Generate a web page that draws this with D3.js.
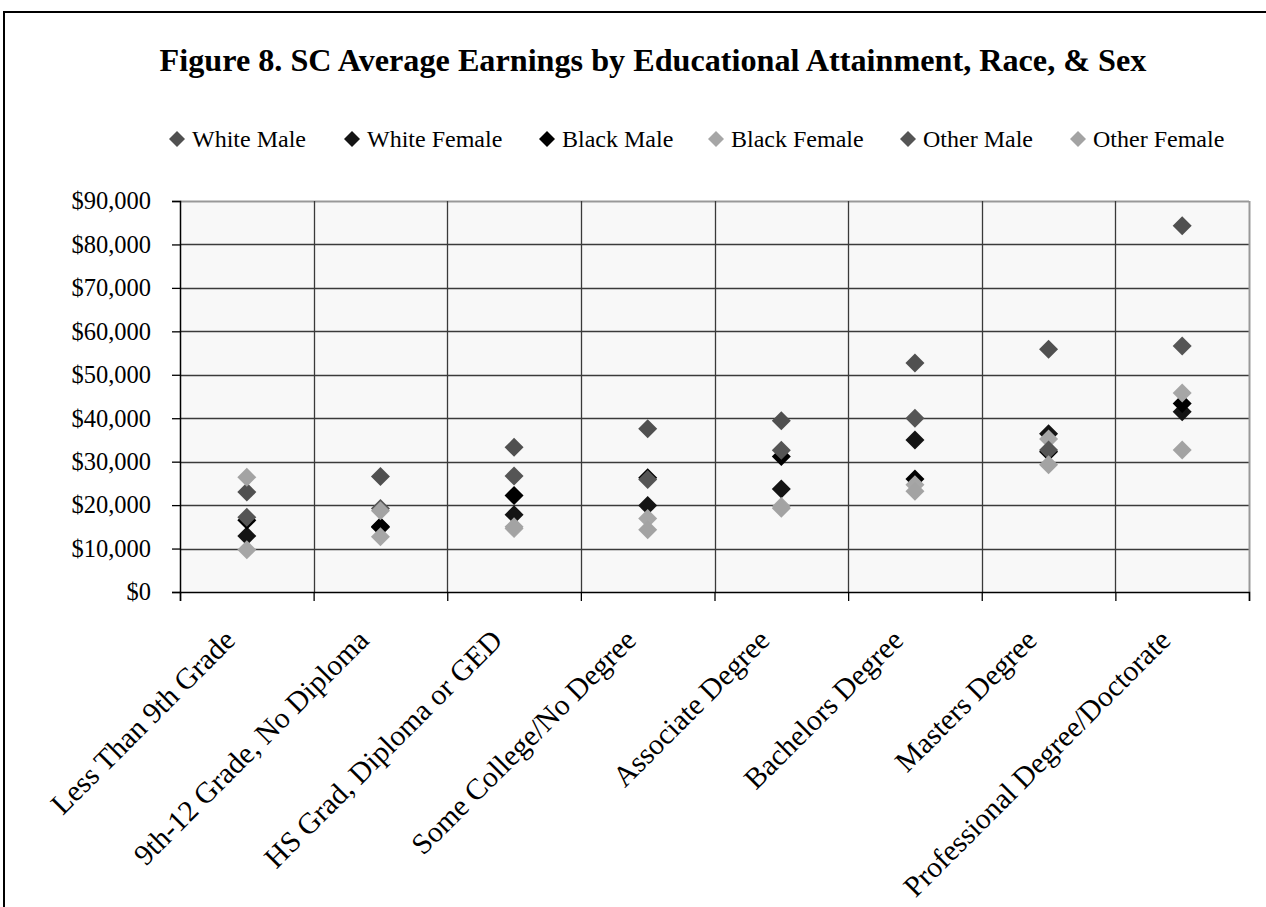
<!DOCTYPE html>
<html>
<head>
<meta charset="utf-8">
<script src="https://cdn.jsdelivr.net/npm/d3@7"></script>
<style>
  html, body { margin: 0; padding: 0; background: #fff; }
  svg { display: block; }
  text { font-family: "Liberation Serif", "Times New Roman", serif; fill: #000; }
</style>
</head>
<body>
<svg id="chart" width="1266" height="907"></svg>
<script>
// ---- data ----
const categories = [
  "Less Than 9th Grade",
  "9th-12 Grade, No Diploma",
  "HS Grad, Diploma or GED",
  "Some College/No Degree",
  "Associate Degree",
  "Bachelors Degree",
  "Masters Degree",
  "Professional Degree/Doctorate"
];
const seriesNames = ["White Male", "White Female", "Black Male", "Black Female", "Other Male", "Other Female"];
const whiteMale   = [23000, 26600, 33300, 37600, 39400, 52700, 55900, 84300];
const whiteFemale = [12900, 14900, 17800, 19900, 23700, 35000, 36400, 41500];
const blackMale   = [16500, 15100, 22200, 26300, 31200, 26000, 32300, 43400];
const blackFemale = [ 9700, 12700, 14600, 16900, 19700, 24700, 35200, 45800];
const otherMale   = [17200, 19200, 26700, 25900, 32600, 40000, 32700, 56600];
const otherFemale = [26400, 18700, 15000, 14300, 19300, 23200, 29300, 32700];
const yTicks = [0, 10000, 20000, 30000, 40000, 50000, 60000, 70000, 80000, 90000];
const title = "Figure 8. SC Average Earnings by Educational Attainment, Race, & Sex";

const seriesValues = [whiteMale, whiteFemale, blackMale, blackFemale, otherMale, otherFemale];
const seriesColors = ["#505050", "#141414", "#000000", "#a6a6a6", "#555555", "#a3a3a3"];

// ---- layout ----
const svg = d3.select("#chart");
const plot = { left: 180, right: 1249, top: 201, bottom: 592 };

// outer border
svg.append("rect")
  .attr("x", 4).attr("y", 12).attr("width", 1300).attr("height", 1000)
  .attr("fill", "#fff").attr("stroke", "#000").attr("stroke-width", 2);

// title (fit to measured width)
const t = svg.append("text")
  .attr("x", 653).attr("y", 71)
  .attr("text-anchor", "middle")
  .attr("font-weight", "bold")
  .attr("font-size", 30)
  .text(title);
const tw = t.node().getComputedTextLength();
t.attr("font-size", 30 * 987 / tw);

// scales
const x = d3.scaleBand().domain(categories).range([plot.left, plot.right]).padding(0);
const y = d3.scaleLinear().domain([0, 90000]).range([plot.bottom, plot.top]);

// plot background
svg.append("rect")
  .attr("x", plot.left).attr("y", plot.top)
  .attr("width", plot.right - plot.left).attr("height", plot.bottom - plot.top)
  .attr("fill", "#f8f8f8");

// horizontal gridlines
svg.append("g").selectAll("line").data(yTicks.filter(d => d > 0)).join("line")
  .attr("x1", plot.left).attr("x2", plot.right)
  .attr("y1", d => Math.round(y(d)) + 0.5).attr("y2", d => Math.round(y(d)) + 0.5)
  .attr("stroke", d => d === 90000 ? "#999" : "#3a3a3a").attr("stroke-width", d => d === 90000 ? 2 : 1.3);

// vertical gridlines at category boundaries
const bounds = categories.map(c => x(c)).concat([x(categories[categories.length - 1]) + x.bandwidth()]);
svg.append("g").selectAll("line").data(bounds.slice(1)).join("line")
  .attr("x1", d => Math.round(d) + 0.5).attr("x2", d => Math.round(d) + 0.5)
  .attr("y1", plot.top).attr("y2", plot.bottom)
  .attr("stroke", (d, i) => i === bounds.length - 2 ? "#999" : "#3a3a3a")
  .attr("stroke-width", (d, i) => i === bounds.length - 2 ? 2 : 1.3);

// y axis
const yAxis = d3.axisLeft(y).tickValues(yTicks).tickSize(8).tickPadding(21)
  .tickFormat(d => "$" + d3.format(",")(d));
const gy = svg.append("g").attr("transform", `translate(${plot.left},0)`).call(yAxis);
gy.select(".domain").attr("stroke", "#000").attr("stroke-width", 1.5);
gy.selectAll(".tick line").attr("stroke", "#000").attr("stroke-width", 1.3);
gy.selectAll("text").attr("font-size", 24.5).attr("font-family", "Liberation Serif").attr("fill", "#000");

// x axis: ticks at boundaries
const xb = d3.scaleLinear().domain([0, categories.length]).range([plot.left, plot.right]);
const xAxis = d3.axisBottom(xb).tickValues(d3.range(0, categories.length + 1)).tickSize(9).tickFormat("");
const gx = svg.append("g").attr("transform", `translate(0,${plot.bottom})`).call(xAxis);
gx.select(".domain").attr("stroke", "#000").attr("stroke-width", 1.5);
gx.selectAll(".tick line").attr("stroke", "#000").attr("stroke-width", 1.3);

// x labels
svg.append("g").selectAll("text").data(categories).join("text")
  .attr("transform", d => `translate(${x(d) + x.bandwidth() / 2 - 10},${plot.bottom + 50}) rotate(-45)`)
  .attr("text-anchor", "end")
  .attr("font-size", 29.5)
  .text(d => d);

// diamonds
function diamond(r) { return `M0,${-r}L${r},0L0,${r}L${-r},0Z`; }
seriesValues.forEach((vals, si) => {
  svg.append("g").selectAll("path").data(vals).join("path")
    .attr("transform", (v, i) => `translate(${x(categories[i]) + x.bandwidth() / 2},${y(v)})`)
    .attr("d", diamond(9.5))
    .attr("fill", seriesColors[si]);
});

// legend
const legendX = [177, 352, 547, 716, 908, 1078];
const lg = svg.append("g");
seriesNames.forEach((name, i) => {
  lg.append("path").attr("transform", `translate(${legendX[i]},139)`)
    .attr("d", diamond(8)).attr("fill", seriesColors[i]);
  lg.append("text").attr("x", legendX[i] + 15).attr("y", 147)
    .attr("font-size", 24).text(name);
});
</script>
</body>
</html>
